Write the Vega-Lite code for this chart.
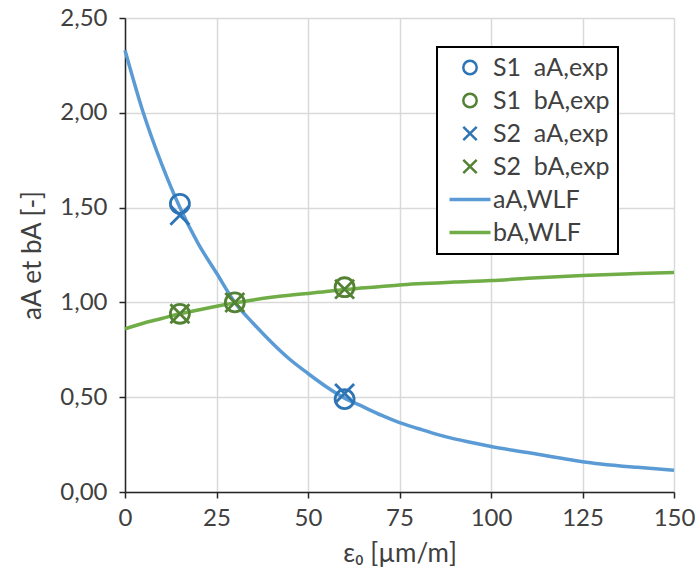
{
  "$schema": "https://vega.github.io/schema/vega-lite/v6.json",
  "width": 549,
  "height": 474,
  "autosize": {"type": "none"},
  "padding": {"left": 125, "top": 18, "right": 23, "bottom": 92},
  "background": "white",
  "config": {
    "font": "Lato",
    "view": {"stroke": null},
    "axis": {
      "labelFont": "Lato", "labelFontSize": 24, "labelColor": "#404040",
      "titleFont": "Lato", "titleFontSize": 26, "titleFontWeight": "normal", "titleColor": "#404040",
      "gridColor": "#d9d9d9", "gridWidth": 1.5,
      "domainColor": "#262626", "domainWidth": 1.5,
      "tickColor": "#262626", "tickWidth": 1.5, "tickSize": 6
    },
    "legend": {
      "orient": "none", "legendX": 312, "legendY": 29,
      "padding": 8, "strokeColor": "black", "fillColor": "white",
      "labelFont": "Lato", "labelFontSize": 25, "labelColor": "#404040", "labelOffset": 6,
      "symbolStrokeWidth": 2.5, "rowPadding": 7
    }
  },
  "data": {"values": [
    {"x": 15, "y": 1.52, "series": "S1\u00a0 aA,exp"},
    {"x": 60, "y": 0.49, "series": "S1\u00a0 aA,exp"},
    {"x": 15, "y": 0.94, "series": "S1\u00a0 bA,exp"},
    {"x": 30, "y": 1.0, "series": "S1\u00a0 bA,exp"},
    {"x": 60, "y": 1.08, "series": "S1\u00a0 bA,exp"},
    {"x": 15, "y": 1.46, "series": "S2\u00a0 aA,exp"},
    {"x": 60, "y": 0.52, "series": "S2\u00a0 aA,exp"},
    {"x": 15, "y": 0.94, "series": "S2\u00a0 bA,exp"},
    {"x": 30, "y": 1.0, "series": "S2\u00a0 bA,exp"},
    {"x": 60, "y": 1.07, "series": "S2\u00a0 bA,exp"},
    {"x": 0, "y": 2.33, "series": "aA,WLF"},
    {"x": 5, "y": 2.0, "series": "aA,WLF"},
    {"x": 10, "y": 1.73, "series": "aA,WLF"},
    {"x": 15, "y": 1.5, "series": "aA,WLF"},
    {"x": 20, "y": 1.31, "series": "aA,WLF"},
    {"x": 25, "y": 1.155, "series": "aA,WLF"},
    {"x": 30, "y": 1.0, "series": "aA,WLF"},
    {"x": 35, "y": 0.89, "series": "aA,WLF"},
    {"x": 40, "y": 0.79, "series": "aA,WLF"},
    {"x": 45, "y": 0.7, "series": "aA,WLF"},
    {"x": 50, "y": 0.625, "series": "aA,WLF"},
    {"x": 55, "y": 0.555, "series": "aA,WLF"},
    {"x": 60, "y": 0.495, "series": "aA,WLF"},
    {"x": 65, "y": 0.45, "series": "aA,WLF"},
    {"x": 70, "y": 0.405, "series": "aA,WLF"},
    {"x": 75, "y": 0.366, "series": "aA,WLF"},
    {"x": 80, "y": 0.335, "series": "aA,WLF"},
    {"x": 85, "y": 0.305, "series": "aA,WLF"},
    {"x": 90, "y": 0.28, "series": "aA,WLF"},
    {"x": 95, "y": 0.26, "series": "aA,WLF"},
    {"x": 100, "y": 0.24, "series": "aA,WLF"},
    {"x": 110, "y": 0.208, "series": "aA,WLF"},
    {"x": 120, "y": 0.175, "series": "aA,WLF"},
    {"x": 125, "y": 0.16, "series": "aA,WLF"},
    {"x": 130, "y": 0.148, "series": "aA,WLF"},
    {"x": 140, "y": 0.13, "series": "aA,WLF"},
    {"x": 150, "y": 0.115, "series": "aA,WLF"},
    {"x": 0, "y": 0.86, "series": "bA,WLF"},
    {"x": 5, "y": 0.89, "series": "bA,WLF"},
    {"x": 10, "y": 0.915, "series": "bA,WLF"},
    {"x": 15, "y": 0.94, "series": "bA,WLF"},
    {"x": 20, "y": 0.96, "series": "bA,WLF"},
    {"x": 25, "y": 0.98, "series": "bA,WLF"},
    {"x": 30, "y": 0.997, "series": "bA,WLF"},
    {"x": 35, "y": 1.013, "series": "bA,WLF"},
    {"x": 40, "y": 1.027, "series": "bA,WLF"},
    {"x": 45, "y": 1.038, "series": "bA,WLF"},
    {"x": 50, "y": 1.047, "series": "bA,WLF"},
    {"x": 55, "y": 1.058, "series": "bA,WLF"},
    {"x": 60, "y": 1.068, "series": "bA,WLF"},
    {"x": 70, "y": 1.084, "series": "bA,WLF"},
    {"x": 75, "y": 1.092, "series": "bA,WLF"},
    {"x": 80, "y": 1.098, "series": "bA,WLF"},
    {"x": 90, "y": 1.107, "series": "bA,WLF"},
    {"x": 100, "y": 1.115, "series": "bA,WLF"},
    {"x": 110, "y": 1.127, "series": "bA,WLF"},
    {"x": 125, "y": 1.142, "series": "bA,WLF"},
    {"x": 140, "y": 1.152, "series": "bA,WLF"},
    {"x": 150, "y": 1.158, "series": "bA,WLF"}
  ]},
  "encoding": {
    "x": {
      "field": "x", "type": "quantitative",
      "scale": {"domain": [0, 150], "nice": false, "zero": false},
      "axis": {"values": [0, 25, 50, 75, 100, 125, 150], "title": "ε₀ [µm/m]", "labelPadding": 8, "titlePadding": 10, "labelFlush": false}
    },
    "y": {
      "field": "y", "type": "quantitative",
      "scale": {"domain": [0, 2.5], "nice": false},
      "axis": {"values": [0, 0.5, 1, 1.5, 2, 2.5], "labelExpr": "replace(format(datum.value, '.2f'), '.', ',')", "title": "aA et bA [-]", "labelPadding": 12, "titlePadding": 14, "labelFlush": false}
    },
    "color": {
      "field": "series", "type": "nominal", "title": null,
      "scale": {"domain": ["S1\u00a0 aA,exp", "S1\u00a0 bA,exp", "S2\u00a0 aA,exp", "S2\u00a0 bA,exp", "aA,WLF", "bA,WLF"], "range": ["#2E75B6", "#548235", "#2E75B6", "#548235", "#5B9BD5", "#70AD47"]},
      "legend": {
        "encode": {
          "legend": {"update": {"strokeWidth": {"value": 2}}},
          "symbols": {"update": {
            "x": {"value": 25},
            "size": {"signal": "indexof('' + datum.value, 'WLF') >= 0 ? 1681 : 180"},
            "strokeWidth": {"signal": "indexof('' + datum.value, 'WLF') >= 0 ? 3.5 : 2.5"},
            "opacity": {"value": 1}
          }},
          "labels": {"update": {"x": {"value": 48}}}
        }
      }
    }
  },
  "layer": [
    {
      "transform": [{"filter": "indexof(datum.series, 'WLF') >= 0"}],
      "mark": {"type": "line", "strokeWidth": 3.5, "interpolate": "monotone"}
    },
    {
      "transform": [{"filter": "indexof(datum.series, 'exp') >= 0"}],
      "mark": {"type": "point", "filled": false, "strokeWidth": 2.8, "size": 360, "opacity": 1},
      "encoding": {
        "shape": {
          "field": "series", "type": "nominal", "title": null,
          "scale": {"domain": ["S1\u00a0 aA,exp", "S1\u00a0 bA,exp", "S2\u00a0 aA,exp", "S2\u00a0 bA,exp", "aA,WLF", "bA,WLF"], "range": ["circle", "circle", "M-1,-1L1,1M1,-1L-1,1", "M-1,-1L1,1M1,-1L-1,1", "stroke", "stroke"]}
        }
      }
    }
  ]
}
